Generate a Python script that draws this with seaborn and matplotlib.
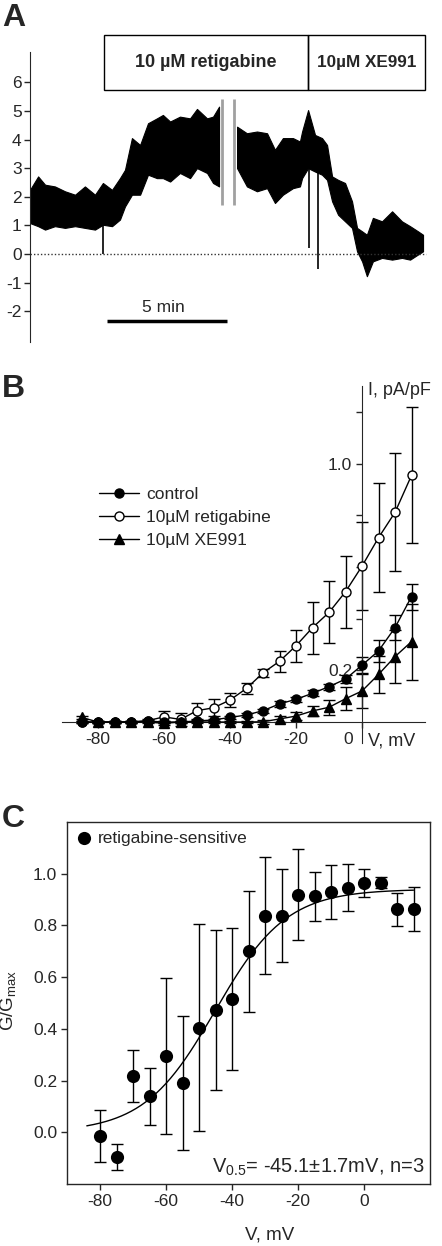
import numpy as np
import matplotlib
matplotlib.use("Agg")
import matplotlib.pyplot as plt
import matplotlib.transforms as mtransforms
from matplotlib.patches import Rectangle
import seaborn as sns

sns.set_style("ticks")
plt.rcParams['font.family'] = ['Liberation Sans', 'DejaVu Sans']
plt.rcParams['mathtext.fontset'] = 'custom'
plt.rcParams['mathtext.rm'] = 'Liberation Sans'
plt.rcParams['mathtext.it'] = 'Liberation Sans:italic'
plt.rcParams['axes.unicode_minus'] = False

# ---------------- data: panel A (current trace envelope, pA/pF vs min) ----------------
trace_t = [0.04, 0.38, 0.67, 1.08, 1.50, 1.92, 2.33, 2.75, 3.08, 3.46, 3.79, 4.00, 4.29,
           4.63, 4.96, 5.33, 5.58, 5.88, 6.29, 6.71, 7.00, 7.42, 7.67, 7.92]
trace_hi = [2.24, 2.71, 2.42, 2.36, 2.19, 2.07, 2.36, 2.07, 2.48, 2.24, 2.65, 2.94, 4.05,
            3.81, 4.57, 4.74, 4.86, 4.63, 4.80, 4.74, 5.07, 4.74, 4.80, 5.15]
trace_lo = [1.08, 0.97, 0.85, 0.97, 0.91, 0.97, 0.91, 0.85, 1.02, 0.97, 1.20, 1.66, 2.07,
            2.07, 2.77, 2.65, 2.65, 2.53, 2.83, 2.65, 3.00, 2.83, 2.48, 2.36]
trace2_t = [8.67, 9.08, 9.50, 9.92, 10.25, 10.58, 11.00, 11.29, 11.38, 11.63, 11.92, 12.21,
            12.42, 12.63, 12.88, 13.17, 13.46, 13.67, 13.88, 14.08, 14.33, 14.71, 15.13,
            15.54, 15.88, 16.21, 16.42]
trace2_hi = [4.45, 4.22, 4.28, 4.22, 3.64, 4.05, 4.05, 3.93, 4.28, 5.03, 4.16, 4.05,
             3.81, 2.71, 2.59, 2.48, 1.84, 0.91, 0.79, 0.67, 1.26, 1.14, 1.49,
             1.14, 0.97, 0.79, 0.67]
trace2_lo = [3.00, 2.36, 2.19, 2.30, 1.78, 2.07, 2.30, 2.36, 2.65, 3.00, 2.88, 2.77,
             2.59, 1.84, 1.37, 1.14, 0.91, 0.09, -0.26, -0.78, -0.26, -0.14, -0.20,
             -0.14, -0.20, -0.02, 0.09]
spike_t = [3.08, 11.67, 12.04]
spike_top = [1.0, 3.0, 2.9]
spike_min = [-0.02, 0.21, -0.51]
gray_t = [8.03, 8.55]
gray_lo, gray_hi = 1.72, 5.40
drug_start, drug_switch, drug_end = 3.125, 11.625, 16.5
drug_labels = ["10 µM retigabine", "10µM XE991"]

# ---------------- data: panel B (I-V) ----------------
v_iv = [-85, -80, -75, -70, -65, -60, -55, -50, -45, -40, -35, -30, -25, -20, -15, -10, -5, 0, 5, 10, 15]
i_control = [0.0, 0.0, 0.0, 0.0, 0.004, 0.0, 0.0, 0.004, 0.008, 0.018, 0.027, 0.044, 0.07,
             0.088, 0.111, 0.137, 0.166, 0.22, 0.275, 0.365, 0.485]
e_control = [0.005, 0.005, 0.005, 0.005, 0.005, 0.005, 0.005, 0.005, 0.005, 0.005, 0.008, 0.008,
             0.01, 0.01, 0.012, 0.012, 0.015, 0.03, 0.043, 0.048, 0.05]
i_retig = [0.0, 0.0, 0.0, 0.0, 0.005, 0.02, 0.01, 0.044, 0.055, 0.085, 0.13, 0.19, 0.235,
           0.295, 0.365, 0.424, 0.504, 0.603, 0.713, 0.811, 0.954]
e_retig = [0.005, 0.005, 0.005, 0.005, 0.005, 0.024, 0.026, 0.031, 0.033, 0.028, 0.022, 0.015,
           0.041, 0.061, 0.10, 0.12, 0.14, 0.17, 0.21, 0.228, 0.263]
i_xe = [0.018, 0.0, 0.0, 0.0, 0.0, -0.005, 0.0, 0.0, 0.0, 0.0, 0.0, 0.001, 0.012,
        0.023, 0.043, 0.057, 0.09, 0.12, 0.184, 0.253, 0.311]
e_xe = [0.005, 0.005, 0.005, 0.005, 0.005, 0.008, 0.005, 0.005, 0.005, 0.005, 0.005, 0.008,
        0.01, 0.015, 0.02, 0.03, 0.044, 0.067, 0.073, 0.103, 0.147]
iv_labels = ["control", "10µM retigabine", "10µM XE991"]

# ---------------- data: panel C (G/Gmax) ----------------
v_g = [-80, -75, -70, -65, -60, -55, -50, -45, -40, -35, -30, -25, -20, -15, -10, -5, 0, 5, 10, 15]
g_norm = [-0.015, -0.095, 0.218, 0.14, 0.295, 0.19, 0.404, 0.473, 0.515, 0.70, 0.838, 0.838,
          0.919, 0.913, 0.93, 0.946, 0.963, 0.965, 0.862, 0.865]
g_err = [0.10, 0.05, 0.10, 0.11, 0.30, 0.26, 0.40, 0.31, 0.275, 0.235, 0.225, 0.18, 0.177,
         0.095, 0.105, 0.09, 0.054, 0.022, 0.063, 0.085]
# Boltzmann fit parameters
g_max, v_half, slope_k = 0.94, -45.1, 10.8
fit_range = (-84, 15)

W, H = 442, 1246
fig = plt.figure(figsize=(W / 100, H / 100), dpi=100)
FS = 12.5

# ======================= Panel A =======================
axA = fig.add_axes([30 / W, 1 - 342 / H, 400 / W, 312 / H])
axA.set_xlim(0.042, 16.71)
axA.set_ylim(-3.08, 7.83)
axA.fill_between(trace_t, trace_lo, trace_hi, color="black", lw=0.8, edgecolor="black")
axA.fill_between(trace2_t, trace2_lo, trace2_hi, color="black", lw=0.8, edgecolor="black")
axA.vlines(spike_t, spike_min, spike_top, color="black", lw=1.2)
axA.vlines(gray_t, gray_lo, gray_hi, color="#a0a0a0", lw=2)
axA.axhline(0, xmin=0, xmax=0.99, color="#333333", ls=(0, (1, 1.5)), lw=1)
# drug application boxes
axA.add_patch(Rectangle((drug_start, 5.73), drug_switch - drug_start, 1.93,
                        fill=False, ec="black", lw=1, clip_on=False))
axA.add_patch(Rectangle((drug_switch, 5.73), drug_end - drug_switch, 1.93,
                        fill=False, ec="black", lw=1, clip_on=False))
axA.text((drug_start + drug_switch) / 2, 6.70, drug_labels[0], ha="center", va="center",
         fontsize=13, fontweight="bold")
axA.text((drug_switch + drug_end) / 2, 6.70, drug_labels[1], ha="center", va="center",
         fontsize=12.3, fontweight="bold")
# scale bar
axA.plot([3.25, 8.25], [-2.33, -2.33], color="black", lw=2.5, solid_capstyle="butt")
axA.text(5.6, -2.15, "5 min", ha="center", va="bottom", fontsize=FS)
sns.despine(ax=axA, bottom=True)
axA.spines["left"].set_bounds(-3.08, 7.05)
axA.set_xticks([])
axA.set_yticks(range(-2, 7))
axA.tick_params(axis="y", labelsize=FS, length=4, width=1, pad=2)

# ======================= Panel B =======================
axB = fig.add_axes([61.7 / W, 1 - 742.7 / H, 363 / W, 356.7 / H])
axB.set_xlim(-91, 19)
axB.set_ylim(-0.08, 1.30)
kw = dict(color="black", lw=1, markersize=6.5, markeredgecolor="black", markeredgewidth=1)
for y, e in [(i_retig, e_retig), (i_control, e_control), (i_xe, e_xe)]:
    axB.errorbar(v_iv, y, yerr=e, fmt="none", ecolor="black", elinewidth=1, capsize=4,
                 capthick=1, zorder=2)
sns.lineplot(x=v_iv, y=i_retig, ax=axB, marker="o", markerfacecolor="white",
             label=iv_labels[1], zorder=3, **kw)
sns.lineplot(x=v_iv, y=i_control, ax=axB, marker="o", markerfacecolor="black",
             label=iv_labels[0], zorder=4, **kw)
sns.lineplot(x=v_iv, y=i_xe, ax=axB, marker="^", markerfacecolor="black",
             label=iv_labels[2], zorder=5, **kw)
axB.spines["left"].set_position(("data", 0))
axB.spines["bottom"].set_position(("data", 0))
axB.spines["top"].set_visible(False)
axB.spines["right"].set_visible(False)
axB.set_xticks([-80, -60, -40, -20, 0])
axB.set_xticklabels(["-80", "-60", "-40", "-20", "0"])
axB.set_yticks([0.2, 0.4, 0.6, 0.8, 1.0, 1.2])
axB.set_yticklabels(["0.2", "", "", "", "1.0", ""])
axB.tick_params(axis="both", labelsize=FS, length=4, width=1, pad=3)
zero_lab = axB.get_xticklabels()[-1]
zero_lab.set_transform(zero_lab.get_transform() +
                       mtransforms.ScaledTranslation(-0.14, 0, fig.dpi_scale_trans))
axB.text(1.8, -0.073, "V, mV", ha="left", va="center", fontsize=13)
axB.text(1.8, 1.284, "I, pA/pF", ha="left", va="center", fontsize=13, clip_on=False)
handles, labels = axB.get_legend_handles_labels()
order = [labels.index(l) for l in iv_labels]
axB.legend([handles[i] for i in order], [labels[i] for i in order], loc="upper left",
           bbox_to_anchor=(0.103, 0.718), frameon=False, fontsize=FS, handlelength=2.3,
           handletextpad=0.4, labelspacing=0.45, borderaxespad=0, borderpad=0)

# ======================= Panel C =======================
axC = fig.add_axes([67 / W, 1 - 1184 / H, 363 / W, 362 / H])
axC.set_xlim(-90, 20)
axC.set_ylim(-0.2, 1.2)
v_fit = np.linspace(fit_range[0], fit_range[1], 200)
g_fit = g_max / (1 + np.exp((v_half - v_fit) / slope_k))
sns.lineplot(x=v_fit, y=g_fit, ax=axC, color="black", lw=1, zorder=2)
axC.errorbar(v_g, g_norm, yerr=g_err, fmt="none", ecolor="black", elinewidth=1, capsize=4,
             capthick=1, zorder=3)
sns.scatterplot(x=v_g, y=g_norm, ax=axC, color="black", s=90, edgecolor="black",
                linewidth=0, zorder=4, label="retigabine-sensitive")
axC.legend(loc="upper left", bbox_to_anchor=(-0.01, 0.985), frameon=False, fontsize=FS,
           handletextpad=-0.2, borderaxespad=0, borderpad=0.2)
axC.set_xticks([-80, -60, -40, -20, 0])
axC.set_yticks([0.0, 0.2, 0.4, 0.6, 0.8, 1.0])
axC.set_yticklabels(["0.0", "0.2", "0.4", "0.6", "0.8", "1.0"])
axC.tick_params(axis="both", labelsize=FS, length=4, width=1, pad=3)
for s in axC.spines.values():
    s.set_linewidth(1)
axC.set_xlabel("V, mV", fontsize=13.5)
axC.xaxis.set_label_coords(0.559, -0.118)
axC.set_ylabel("G/G$_{\\mathrm{max}}$", fontsize=13.5)
axC.yaxis.set_label_coords(-0.135, 0.508)
axC.text(0.986, 0.03, "V$_{\\mathrm{0.5}}$= -45.1±1.7mV, n=3", transform=axC.transAxes,
         ha="right", va="baseline", fontsize=14.5)

# panel letters
for letter, ytop in [("A", 3), ("B", 374), ("C", 804)]:
    fig.text(2 / W, 1 - ytop / H, letter, ha="left", va="top", fontsize=23, fontweight="bold")

fig.savefig("out.png", dpi=100)
